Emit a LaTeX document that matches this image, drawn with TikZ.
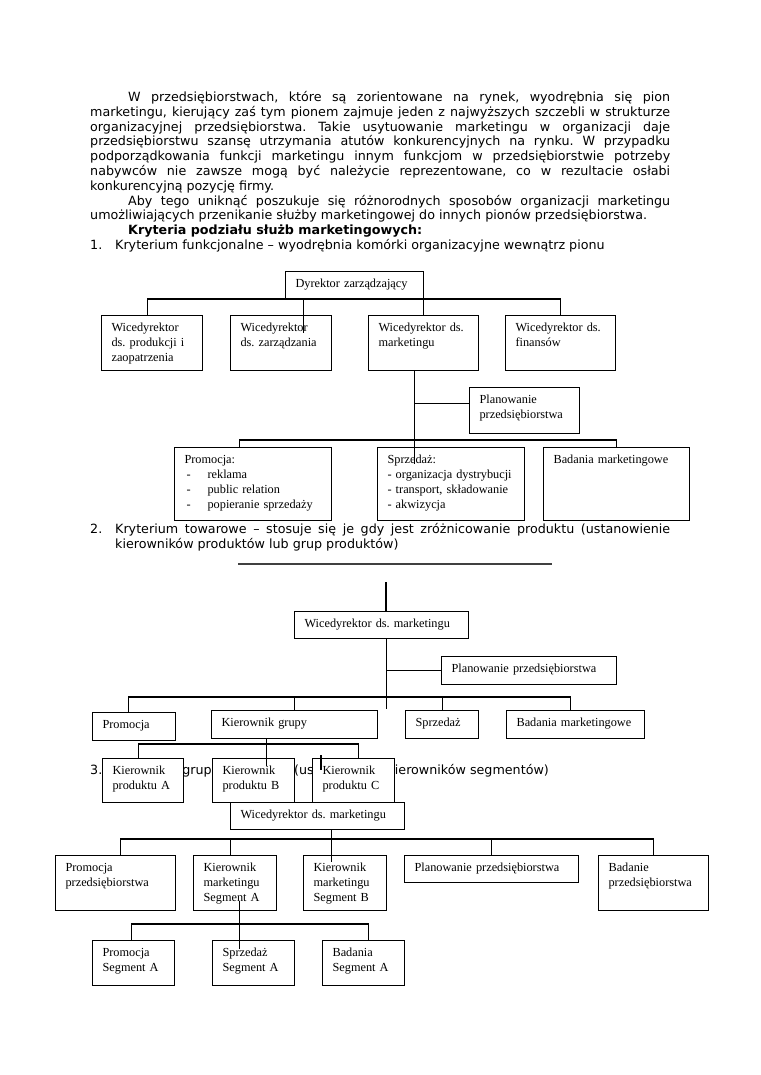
\documentclass[tikz,border=0pt]{standalone}
\usepackage{fontspec}
\setmainfont{DejaVu Sans}
\newfontfamily\boxfont{Liberation Serif}
\usepackage{tikz}
\usetikzlibrary{calc}
\frenchspacing

\begin{document}
\begin{tikzpicture}[x=1pt,y=-1pt,
  body/.style={anchor=base west,inner sep=0pt,text width=580pt,align=justify,font=\fontsize{12.7}{14.8}\selectfont},
  unit/.style={draw,fill=white,line width=1.1pt,anchor=north west,align=left,inner xsep=10pt,inner ysep=3pt,text height=13.3pt,font=\boxfont\fontsize{12.3}{15}\selectfont},
  conn/.style={line width=1.1pt},
  rule/.style={line width=1.5pt,black!75}
]
\path[use as bounding box,fill=white] (0,0) rectangle (760,1075);

% tekst
\node[body] (para) at (90,101.5) {\hyphenpenalty=10000
\hspace*{38pt}W przedsiębiorstwach, które są zorientowane na rynek, wyodrębnia się pion\linebreak
marketingu, kierujący zaś tym pionem zajmuje jeden z najwyższych szczebli w strukturze\linebreak
organizacyjnej przedsiębiorstwa. Takie usytuowanie marketingu w organizacji daje\linebreak
przedsiębiorstwu szansę utrzymania atutów konkurencyjnych na rynku. W przypadku\linebreak
podporządkowania funkcji marketingu innym funkcjom w przedsiębiorstwie potrzeby\linebreak
nabywców nie zawsze mogą być należycie reprezentowane, co w rezultacie osłabi\linebreak
konkurencyjną pozycję firmy.\par
\hspace*{38pt}Aby tego uniknąć poszukuje się różnorodnych sposobów organizacji marketingu\linebreak
umożliwiających przenikanie służby marketingowej do innych pionów przedsiębiorstwa.\par
\hspace*{38pt}\textbf{Kryteria podziału służb marketingowych:}\par
\makebox[25pt][l]{1.}Kryterium funkcjonalne – wyodrębnia komórki organizacyjne wewnątrz pionu};
\node[body] (kryt2) at (90,533.5) {\hyphenpenalty=10000
\makebox[25pt][l]{2.}Kryterium towarowe – stosuje się je gdy jest zróżnicowanie produktu (ustanowienie\linebreak
\hspace*{25pt}kierowników produktów lub grup produktów)};
\node[body] (kryt3) at (90,774.5) {\makebox[25pt][l]{3.}Kryterium grupy nabywców (ustanowienie kierowników segmentów)};

\coordinate (r1) at (238,564);
\coordinate (r2) at (552,564);
\draw[rule] (r1) -- (r2);

% schemat 1
\node[unit,text width=118pt,text depth=7.7pt] (dyr) at (285,271) {Dyrektor zarządzający};
\node[unit,text width=81pt,text depth=35.7pt] (w1a) at (101,315) {Wicedyrektor\\ds.~produkcji~i\\zaopatrzenia};
\node[unit,text width=81pt,text depth=35.7pt] (w1b) at (230,315) {Wicedyrektor\\ds.~zarządzania};
\node[unit,text width=90pt,text depth=35.7pt] (w1c) at (368,315) {Wicedyrektor~ds.\\marketingu};
\node[unit,text width=90pt,text depth=35.7pt] (w1d) at (505,315) {Wicedyrektor~ds.\\finansów};
\node[unit,text width=90pt,text depth=26.7pt] (plan1) at (469,387) {Planowanie\\przedsiębiorstwa};
\node[unit,text width=137pt,text depth=53.7pt] (prom1) at (174,447) {Promocja:\\
\makebox[23pt][l]{\,-}reklama\\
\makebox[23pt][l]{\,-}public~relation\\
\makebox[23pt][l]{\,-}popieranie~sprzedaży};
\node[unit,text width=127pt,text depth=53.7pt] (sprz1) at (377,447) {Sprzedaż:\\-~organizacja~dystrybucji\\-~transport,~składowanie\\-~akwizycja};
\node[unit,text width=126pt,text depth=53.7pt] (bad1) at (543,447) {Badania~marketingowe};

% schemat 2
\node[unit,text width=154pt,text depth=7.7pt] (wice2) at (294,611) {Wicedyrektor~ds.~marketingu};
\node[unit,text width=155pt,text depth=8.7pt] (plan2) at (441,656) {Planowanie~przedsiębiorstwa};
\node[unit,text width=63pt,text depth=8.7pt] (prom2) at (92,712) {Promocja};
\node[unit,text width=146pt,text depth=8.7pt] (kgr) at (211,710) {Kierownik~grupy};
\node[unit,text width=53pt,text depth=8.7pt] (sprz2) at (405,710) {Sprzedaż};
\node[unit,text width=118pt,text depth=8.7pt] (bad2) at (506,710) {Badania~marketingowe};
\node[unit,text width=61pt,text depth=24.7pt] (prodA) at (102,758) {Kierownik\\produktu~A};
\node[unit,text width=62pt,text depth=24.7pt] (prodB) at (212,758) {Kierownik\\produktu~B};
\node[unit,text width=62pt,text depth=24.7pt] (prodC) at (312,758) {Kierownik\\produktu~C};

% schemat 3
\node[unit,text width=154pt,text depth=7.7pt] (wice3) at (230,802) {Wicedyrektor~ds.~marketingu};
\node[unit,text width=100pt,text depth=35.7pt] (prom3) at (55,855) {Promocja\\przedsiębiorstwa};
\node[unit,text width=63pt,text depth=35.7pt] (segA) at (193,855) {Kierownik\\marketingu\\Segment~A};
\node[unit,text width=63pt,text depth=35.7pt] (segB) at (303,855) {Kierownik\\marketingu\\Segment~B};
\node[unit,text width=154pt,text depth=7.7pt] (plan3) at (404,855) {Planowanie~przedsiębiorstwa};
\node[unit,text width=90pt,text depth=35.7pt] (bad3) at (598,855) {Badanie\\przedsiębiorstwa};
\node[unit,text width=62pt,text depth=25.7pt] (promA) at (92,940) {Promocja\\Segment~A};
\node[unit,text width=62pt,text depth=25.7pt] (sprzA) at (212,940) {Sprzedaż\\Segment~A};
\node[unit,text width=62pt,text depth=25.7pt] (badA) at (322,940) {Badania\\Segment~A};

% polaczenia 1
\draw[conn] ([xshift=-4.5pt]w1a.north) -- ++(0,-16) -| (w1d.north);
\draw[conn] (w1c.north) -- ++(0,-16);
\draw[conn] ([xshift=22pt]w1b.north) ++(0,-16) -- ++(0,34);
\coordinate (m1) at ([xshift=-9pt]w1c.south);
\draw[conn] (m1) -- ++(0,93);
\coordinate (j1) at ([yshift=7pt]plan1.west);
\draw[conn] (j1) -- (j1 -| m1);
\draw[conn] ([xshift=-13.5pt]prom1.north) -- ++(0,-7) -| (bad1.north);

% polaczenia 2
\coordinate (t2) at (386,582);
\draw[conn] (t2) -- (t2 |- wice2.north);
\coordinate (m2) at ([xshift=5pt]wice2.south);
\draw[conn] (m2) -- ++(0,70);
\draw[conn] (plan2.west) -- (plan2.west -| m2);
\draw[conn] ([xshift=-5.5pt]prom2.north) -- ++(0,-15) -| ([xshift=-5pt]bad2.north);
\draw[conn] (kgr.north) -- ++(0,-13);
\draw[conn] (sprz2.north) -- ++(0,-13);
\draw[conn] ([xshift=-28pt]kgr.south) -- ++(0,27);
\draw[conn] ([xshift=-5pt]prodA.north) -- ++(0,-14) -| ([xshift=5pt]prodC.north);
\draw[conn] ([xshift=9pt]prodC.north west) ++(0,-3) -- ++(0,15);

% polaczenia 3
\draw[conn] ([xshift=14pt]wice3.south) -- ++(0,32);
\draw[conn] ([xshift=5pt]prom3.north) -- ++(0,-16) -| (bad3.north);
\draw[conn] ([xshift=-4.5pt]segA.north) -- ++(0,-16);
\draw[conn] (plan3.north) -- ++(0,-16);
\draw[conn] ([xshift=4.5pt]segA.south) ++(0,-10) -- ++(0,48);
\draw[conn] ([xshift=-2pt]promA.north) -- ++(0,-16) -| ([xshift=4.5pt]badA.north);
\end{tikzpicture}
\end{document}
